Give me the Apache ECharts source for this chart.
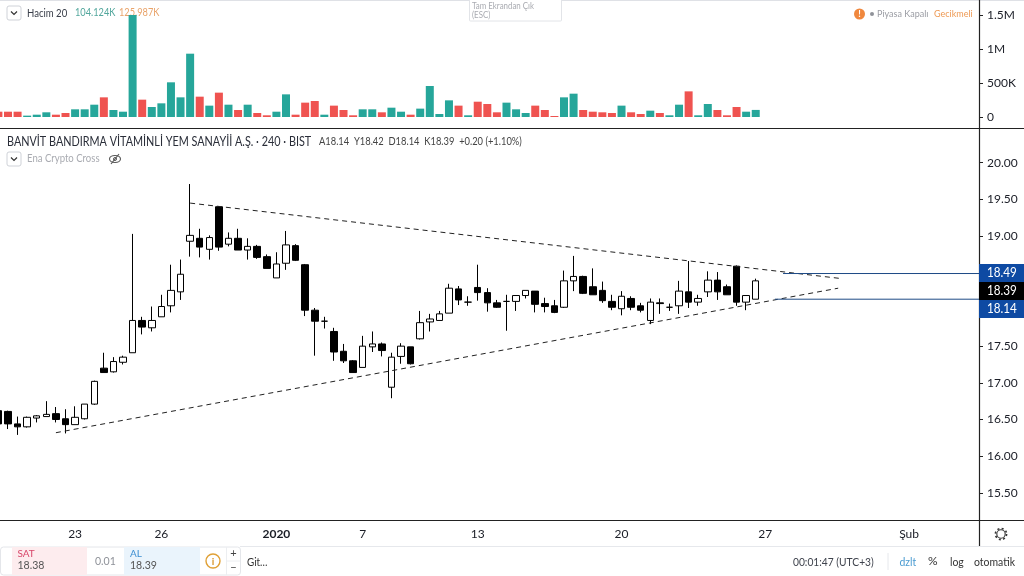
<!DOCTYPE html>
<html><head><meta charset="utf-8">
<style>html,body{margin:0;padding:0;background:#fff;overflow:hidden}#c{width:1024px;height:576px}</style>
<script src="https://cdn.jsdelivr.net/npm/echarts@6/dist/echarts.min.js"></script>
</head><body><div id="c"></div>
<script>
// open, close, low, high per bar
const opens=[16.62,16.61,16.44,16.40,16.52,16.54,16.58,16.51,16.43,16.51,16.71,17.20,17.15,17.28,17.41,17.85,17.75,17.90,18.05,18.24,18.93,18.97,18.82,19.40,18.89,18.97,18.81,18.86,18.72,18.43,18.63,18.87,18.61,17.99,17.84,17.70,17.43,17.30,17.21,17.49,17.53,16.94,17.36,17.49,17.60,17.83,17.85,17.95,18.28,18.10,18.30,18.23,18.09,18.11,18.11,18.19,18.25,18.08,18.05,18.03,18.39,18.45,18.31,18.26,18.11,18.01,18.15,18.05,17.85,18.09,18.03,18.05,18.24,18.10,18.24,18.40,18.31,18.59,18.10,18.14];
const closes=[16.44,16.44,16.40,16.53,16.55,16.57,16.50,16.43,16.53,16.71,17.02,17.14,17.29,17.35,17.85,17.76,17.85,18.04,18.26,18.48,19.01,18.85,18.98,18.85,18.97,18.81,18.86,18.71,18.56,18.62,18.88,18.67,17.99,17.84,17.84,17.42,17.30,17.14,17.50,17.53,17.44,17.35,17.50,17.26,17.82,17.87,17.94,18.29,18.13,18.10,18.23,18.09,18.03,18.11,18.19,18.26,18.07,18.04,17.96,18.39,18.45,18.22,18.20,18.12,18.03,18.18,18.03,17.99,18.10,18.08,18.03,18.25,18.10,18.15,18.40,18.24,18.20,18.10,18.19,18.39];
const lows=[16.39,16.37,16.29,16.39,16.46,16.54,16.46,16.31,16.43,16.50,16.70,17.14,17.14,17.25,17.41,17.66,17.70,17.90,17.96,18.13,18.72,18.71,18.68,18.80,18.86,18.81,18.68,18.69,18.56,18.43,18.54,18.66,17.91,17.37,17.74,17.30,17.27,17.14,17.21,17.42,17.36,16.79,17.26,17.25,17.59,17.70,17.85,17.95,18.06,18.05,18.12,17.97,18.02,17.71,17.98,18.15,17.96,17.96,17.95,18.02,18.25,18.21,18.20,18.09,17.99,17.92,17.99,17.96,17.80,17.94,17.98,17.94,18.02,18.05,18.17,18.13,18.20,18.05,17.99,18.14];
const highs=[16.63,16.62,16.54,16.54,16.56,16.75,16.67,16.64,16.68,16.71,17.03,17.41,17.35,17.37,19.03,17.90,18.04,18.20,18.61,18.68,19.71,19.10,19.01,19.41,19.05,19.10,18.97,18.88,18.75,18.78,19.07,18.89,18.62,18.02,17.90,17.75,17.53,17.31,17.64,17.70,17.55,17.41,17.54,17.49,17.98,17.94,17.98,18.35,18.32,18.18,18.61,18.29,18.13,18.20,18.19,18.26,18.25,18.16,18.13,18.53,18.73,18.46,18.56,18.38,18.20,18.25,18.18,18.09,18.15,18.15,18.08,18.39,18.66,18.20,18.52,18.51,18.34,18.60,18.19,18.42];
const volumesK=[78,78,78,20,34,69,34,59,113,113,181,289,103,78,1500,255,147,201,510,289,931,299,167,358,181,103,181,59,25,78,333,34,211,235,34,167,103,25,113,113,69,137,78,34,123,456,44,245,167,25,225,191,69,211,113,59,167,103,15,289,343,103,78,69,59,167,69,44,93,59,25,181,377,25,191,103,25,147,78,104.124];
const barSlots=103;
const dateTicks={8:'23',17:'26',29:'2020',38:'7',50:'13',65:'20',80:'27',95:'Şub'};
const priceTicks=[15.5,16,16.5,17,17.5,19,19.5,20];
const volumeTicks=[0,500,1000,1500];
const upperTrendX=[20,88], upperTrendY=[19.45,18.42];
const lowerTrendX=[6,87.6], lowerTrendY=[16.32,18.29];
const askLineX=[81.85,102.3], askLineY=[18.49,18.49];
const bidLineX=[81,102.3], bidLineY=[18.14,18.14];

const FONT='Lato,"Noto Sans",sans-serif';
const cats=Array.from({length:barSlots},(_,i)=>String(i));
const candles=opens.map((o,i)=>[o,closes[i],lows[i],highs[i]]);
const vols=volumesK.map((v,i)=>({value:v*1000,itemStyle:{color:closes[i]>=opens[i]?'#26a69a':'#ef5350'}}));
const pairs=(xs,ys)=>xs.map((x,i)=>[x,ys[i]]);
const L=-6.39,W=987.4;
const line=(x1,y1,x2,y2,stroke,w)=>({type:'line',silent:true,shape:{x1,y1,x2,y2},style:{stroke,lineWidth:w||1}});
const rect=(x,y,w,h,fill,stroke,r)=>({type:'rect',silent:true,shape:{x,y,width:w,height:h,r:r||0},style:{fill:fill||'transparent',stroke:stroke||null,lineWidth:1}});
const txt=(x,y,text,fill,size,sx,extra)=>({type:'text',silent:true,x,y,scaleX:sx||1,style:Object.assign({text,fill,fontSize:size,fontFamily:FONT,verticalAlign:'middle',align:'left'},extra||{})});
const chev=(cx,cy)=>({type:'polyline',silent:true,shape:{points:[[cx-3,cy-1.5],[cx,cy+1.5],[cx+3,cy-1.5]]},style:{stroke:'#333',fill:null,lineWidth:1.2}});
const graphics=[
 rect(0,0,1024,1,'#dfe1e6'),
 rect(24,6,136,16,'rgba(255,255,255,0.5)'),
 line(0,128.5,1024,128.5,'#222',1.2),
 line(0,520.5,1024,520.5,'#222',1.2),
 line(979.5,0,979.5,546,'#222',1.2),
 rect(0,546,1024,30,'#fff'),
 line(240,546.5,1024,546.5,'#e6e8ec',1),
 // legend volume
 rect(7,6,14,14,'#fff','#cfd2d8',2), chev(14,13),
 txt(27,13,'Hacim 20','#3a3f4a',11,.87),
 txt(75,13,'104.124K','#53a79d',10.5,.88),
 txt(119,13,'125.987K','#e9a46b',10.5,.88),
 // exit fullscreen
 rect(469.5,-2,92,23,'#fff','#e2e4e8',1),
 txt(472,6,'Tam Ekrandan Çık','#a9abb1',9,.88),
 txt(472,15,'(ESC)','#a9abb1',9,.88),
 // market status
 {type:'circle',silent:true,shape:{cx:859.5,cy:14,r:5.5},style:{fill:'#f0883e'}},
 txt(859.5,14,'!','#fff',9,1,{align:'center',fontWeight:'bold'}),
 {type:'circle',silent:true,shape:{cx:872,cy:14,r:2},style:{fill:'#8f9299'}},
 txt(877,14,'Piyasa Kapalı','#9a9ca3',10,.9),
 txt(934,14,'Gecikmeli','#ee9a55',10,.9),
 // title
 txt(7,142,'BANVİT BANDIRMA VİTAMİNLİ YEM SANAYİİ A.Ş. · 240 · BIST','#2a2e39',12.5,.866),
 txt(319,142,'A18.14  Y18.42  D18.14  K18.39  +0.20 (+1.10%)','#444',10.5,.89),
 rect(7,152,14,14,'#fff','#cfd2d8',2), chev(14,159),
 txt(27,159,'Ena Crypto Cross','#a9abb1',10.5,.91),
 {type:'ellipse',silent:true,shape:{cx:115,cy:159,rx:5.5,ry:3.5},style:{stroke:'#555',fill:null,lineWidth:1.1}},
 {type:'circle',silent:true,shape:{cx:115,cy:159,r:1.5},style:{stroke:'#555',fill:null,lineWidth:1}},
 line(111,164,119,154,'#555',1.1),
 // price badges
 rect(979,264,45,18,'#0e4aa3'),
 rect(979,282,45,18,'#000'),
 rect(979,300,45,18,'#0e4aa3'),
 txt(987,273,'18.49','#fff',13,.9),
 txt(987,290.5,'18.39','#fff',13,.9),
 txt(987,308.5,'18.14','#fff',13,.9),
 // gear
 {type:'circle',silent:true,shape:{cx:1001,cy:534,r:4.2},style:{stroke:'#333',fill:null,lineWidth:1.1}},
 {type:'circle',silent:true,shape:{cx:1001,cy:534,r:5.6},style:{stroke:'#333',fill:null,lineWidth:1.6,lineDash:[2,2.4]}},
 // trading panel
 rect(0.5,547,240,28,'#fff','#e4e6ea',3),
 rect(12,547,75,28,'#fdecee'),
 rect(124,547,76,28,'#eaf4fc'),
 txt(17.5,554,'SAT','#d8476a',10),
 txt(17.5,565.5,'18.38','#555',12,.88),
 txt(95,561,'0.01','#8f9299',12,.88),
 txt(130,554,'AL','#3d8fd1',10),
 txt(130,565.5,'18.39','#555',12,.88),
 {type:'circle',silent:true,shape:{cx:213,cy:561,r:7},style:{stroke:'#e0a035',fill:'#fff',lineWidth:1.4}},
 txt(213,561.5,'i','#d8962a',10,1,{align:'center',fontWeight:'bold'}),
 line(226.5,547,226.5,575,'#eceef1',1),
 line(227,561,240,561,'#eceef1',1),
 txt(233.5,553.5,'+','#444',11,1,{align:'center'}),
 txt(233.5,567.5,'−','#444',11,1,{align:'center'}),
 txt(247,562,'Git…','#333',11,.9),
 // footer
 txt(793,562,'00:01:47 (UTC+3)','#3f434d',11,.93),
 line(888,553,888,570,'#e6e8ec',1),
 txt(899.5,562,'dzlt','#4a9bd1',11,.95),
 txt(928,561.5,'%','#333',12),
 txt(950,562,'log','#333',11,.95),
 txt(974,562,'otomatik','#333',11,.95)
];
const gridV={left:L,top:2,width:W,height:126,outerBoundsMode:'none',containLabel:false};
const gridP={left:L,top:129,width:W,height:391,outerBoundsMode:'none',containLabel:false};
const chart=echarts.init(document.getElementById('c'),null,{renderer:'canvas'});
chart.setOption({
 animation:false,backgroundColor:'#fff',
 grid:[gridV,gridP],
 xAxis:[
  {type:'category',gridIndex:0,data:cats,show:false},
  {type:'category',gridIndex:1,data:cats,axisLine:{show:false},
   axisTick:{alignWithLabel:true,length:4,interval:i=>dateTicks[i]!==undefined,lineStyle:{color:'#222'}},
   axisLabel:{interval:i=>dateTicks[i]!==undefined,margin:8,fontFamily:FONT,fontSize:12,color:'#1a1d26',
     formatter:(v,i)=>{const s=dateTicks[+v];return s==='2020'?'{b|2020}':(s||'');},
     rich:{b:{fontWeight:'bold',fontSize:12,fontFamily:FONT,color:'#1a1d26'}}},
   splitLine:{show:false}},
  {type:'value',gridIndex:1,min:-0.5,max:102.5,show:false,splitLine:{show:false}}
 ],
 yAxis:[
  {type:'value',gridIndex:0,position:'right',offset:-2,min:-161800,max:1691000,axisLine:{show:false,onZero:false},
   axisTick:{show:true,length:4,customValues:volumeTicks.map(v=>v*1000),lineStyle:{color:'#222'}},
   axisLabel:{customValues:volumeTicks.map(v=>v*1000),margin:8,fontFamily:FONT,fontSize:12,color:'#1a1d26',
     formatter:v=>v>=1e6?(v/1e6)+'M':v>0?(v/1000)+'K':'0'},
   splitLine:{show:false}},
  {type:'value',gridIndex:1,position:'right',offset:-2,min:15.13,max:20.46,axisLine:{show:false,onZero:false},
   axisTick:{show:true,length:4,customValues:priceTicks,lineStyle:{color:'#222'}},
   axisLabel:{customValues:priceTicks,margin:8,fontFamily:FONT,fontSize:12,color:'#1a1d26',formatter:v=>v.toFixed(2)},
   splitLine:{show:false}}
 ],
 series:[
  {type:'bar',xAxisIndex:0,yAxisIndex:0,data:vols,barWidth:8,silent:true},
  {type:'candlestick',xAxisIndex:1,yAxisIndex:1,data:candles,barWidth:7,silent:true,
   itemStyle:{color:'#fff',color0:'#000',borderColor:'#000',borderColor0:'#000',borderWidth:1}},
  {type:'line',xAxisIndex:2,yAxisIndex:1,data:pairs(upperTrendX,upperTrendY),symbol:'none',silent:true,lineStyle:{color:'#222',width:1,type:[5,4]}},
  {type:'line',xAxisIndex:2,yAxisIndex:1,data:pairs(lowerTrendX,lowerTrendY),symbol:'none',silent:true,lineStyle:{color:'#222',width:1,type:[5,4]}},
  {type:'line',xAxisIndex:2,yAxisIndex:1,data:pairs(askLineX,askLineY),symbol:'none',silent:true,lineStyle:{color:'#1d4a86',width:1}},
  {type:'line',xAxisIndex:2,yAxisIndex:1,data:pairs(bidLineX,bidLineY),symbol:'none',silent:true,lineStyle:{color:'#1d4a86',width:1}}
 ],
 graphic:{elements:graphics}
});
</script></body></html>
